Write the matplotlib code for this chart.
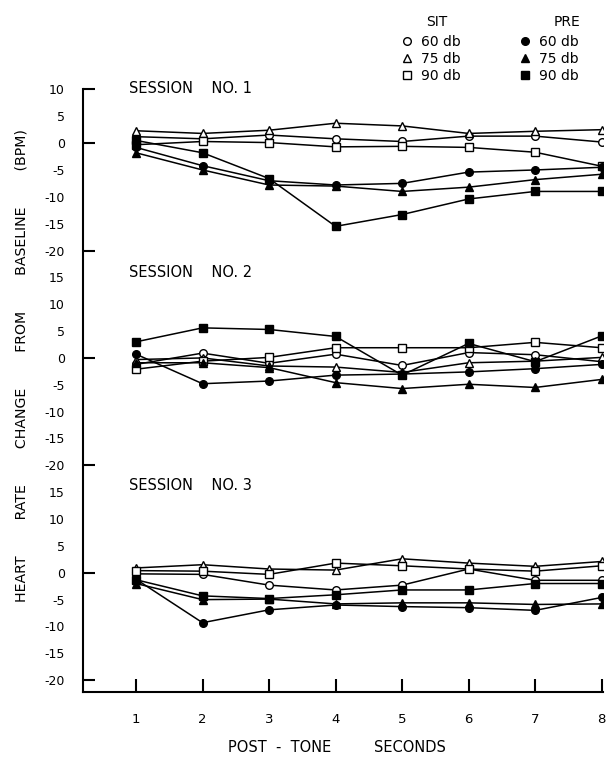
import matplotlib
matplotlib.use("Agg")
import matplotlib.pyplot as plt
from matplotlib.lines import Line2D

# ---------------- data ----------------
seconds = [1, 2, 3, 4, 5, 6, 7, 8]
session_labels = ["SESSION    NO. 1", "SESSION    NO. 2", "SESSION    NO. 3"]
legend_groups = ["SIT", "PRE"]
legend_levels = ["60 db", "75 db", "90 db"]

# Session 1
s1_sit60 = [1.2, 0.8, 1.5, 0.8, 0.3, 1.3, 1.3, 0.2]
s1_sit75 = [2.3, 1.8, 2.4, 3.7, 3.2, 1.8, 2.2, 2.5]
s1_sit90 = [-0.3, 0.3, 0.1, -0.7, -0.6, -0.8, -1.7, -4.3]
s1_pre60 = [-0.8, -4.2, -7.0, -7.8, -7.5, -5.4, -5.0, -4.5]
s1_pre75 = [-1.8, -5.0, -7.8, -8.0, -9.0, -8.2, -6.8, -5.8]
s1_pre90 = [0.5, -1.8, -6.6, -15.5, -13.3, -10.4, -9.0, -9.0]

# Session 2
s2_sit60 = [-1.2, 0.9, -1.0, 0.7, -1.4, 1.0, 0.6, -0.7]
s2_sit75 = [-0.3, 0.0, -1.5, -1.7, -2.7, -0.9, -0.6, 0.1]
s2_sit90 = [-2.1, -0.6, 0.1, 1.9, 1.9, 1.9, 2.9, 1.9]
s2_pre60 = [0.7, -4.8, -4.3, -3.2, -3.0, -2.6, -2.0, -1.2]
s2_pre75 = [-0.9, -0.9, -1.8, -4.6, -5.7, -4.9, -5.5, -4.0]
s2_pre90 = [3.0, 5.6, 5.3, 4.0, -3.2, 2.7, -0.7, 4.1]

# Session 3
s3_sit60 = [-0.2, -0.3, -2.3, -3.2, -2.3, 0.7, -1.4, -1.4]
s3_sit75 = [0.9, 1.5, 0.7, 0.5, 2.6, 1.8, 1.2, 2.1]
s3_sit90 = [0.4, 0.3, -0.3, 1.8, 1.3, 0.7, 0.3, 1.3]
s3_pre60 = [-1.2, -9.3, -6.9, -6.0, -6.3, -6.5, -7.0, -4.6]
s3_pre75 = [-2.0, -5.0, -4.9, -5.8, -5.6, -5.6, -5.9, -5.8]
s3_pre90 = [-1.3, -4.3, -4.8, -4.1, -3.2, -3.2, -2.0, -2.0]

session1 = [s1_sit60, s1_sit75, s1_sit90, s1_pre60, s1_pre75, s1_pre90]
session2 = [s2_sit60, s2_sit75, s2_sit90, s2_pre60, s2_pre75, s2_pre90]
session3 = [s3_sit60, s3_sit75, s3_sit90, s3_pre60, s3_pre75, s3_pre90]
sessions = [session1, session2, session3]

# y tick labels for each session band
s1_ticks = [10, 5, 0, -5, -10, -15, -20]
s23_ticks = [15, 10, 5, 0, -5, -10, -15, -20]

# ---------------- styling ----------------
offsets = [80, 40, 0]          # each session band stacked on one axis
markers = ["o", "^", "s", "o", "^", "s"]
fills = ["white", "white", "white", "black", "black", "black"]
msizes = [5.5, 6.0, 5.5, 5.5, 6.0, 5.5]

W, H = 607, 764
fig = plt.figure(figsize=(W / 100, H / 100), dpi=100)
ax = fig.add_axes([83 / W, 1 - 692 / H, (603 - 83) / W, (692 - 89.4) / H])

for sess, off in zip(sessions, offsets):
    for vals, m, fc, ms in zip(sess, markers, fills, msizes):
        ax.plot(seconds, [v + off for v in vals], color="black", lw=1.1,
                marker=m, mfc=fc, mec="black", mew=1.0, ms=ms,
                solid_joinstyle="miter")

ax.set_xlim(0.203, 8.02)
ax.set_ylim(-22.2, 90)

for s in ["top", "right"]:
    ax.spines[s].set_visible(False)
for s in ["left", "bottom"]:
    ax.spines[s].set_linewidth(1.5)

# x ticks
ax.set_xticks(seconds)
ax.set_xticklabels([str(s) for s in seconds])
ax.tick_params(axis="x", direction="in", length=9.5, width=1.5, pad=15,
               labelsize=9.5)

# y tick labels (no marks) and special marked ticks
ypos, ylab = [], []
for t in s1_ticks:
    ypos.append(t + offsets[0]); ylab.append(str(t))
for off in offsets[1:]:
    for t in s23_ticks:
        ypos.append(t + off); ylab.append(str(t))
ax.set_yticks(ypos)
ax.set_yticklabels(ylab)
ax.tick_params(axis="y", which="major", length=0, pad=13, labelsize=9)
mark_pos = [10 + offsets[0]]
for off in offsets:
    mark_pos += [0 + off, -20 + off]
ax.yaxis.remove_overlapping_locs = False
ax.set_yticks(mark_pos, minor=True)
ax.tick_params(axis="y", which="minor", direction="in", length=8.5, width=1.5)

# session titles
title_levels = [10.2, 16, 16.3]
for lab, off, lv in zip(session_labels, offsets, title_levels):
    ax.text(0.9, lv + off, lab, fontsize=10.5, ha="left", va="center",
            clip_on=False)

# axis labels
fig.text(22 / W, 1 - 366 / H,
         "HEART        RATE        CHANGE        FROM        BASELINE        (BPM)",
         rotation=90, ha="center", va="center", fontsize=10.2)
fig.text(280 / W, 1 - 748 / H, "POST  -  TONE",
         ha="center", va="center", fontsize=10.5)
fig.text(410 / W, 1 - 748 / H, "SECONDS",
         ha="center", va="center", fontsize=10.5)

# legends (two columns with headers)
sit_handles = [Line2D([], [], ls="none", marker=m, mfc="white", mec="black",
                      mew=1.0, ms=ms) for m, ms in zip(markers[:3], msizes[:3])]
pre_handles = [Line2D([], [], ls="none", marker=m, mfc="black", mec="black",
                      mew=1.0, ms=ms) for m, ms in zip(markers[3:], msizes[3:])]
common = dict(loc="upper left", frameon=False, borderpad=0, borderaxespad=0,
              handlelength=0.8, handletextpad=0.6, labelspacing=0.2,
              fontsize=10, bbox_transform=fig.transFigure)
fig.legend(sit_handles, legend_levels, bbox_to_anchor=(0.661, 1 - 35 / H), **common)
fig.legend(pre_handles, legend_levels, bbox_to_anchor=(0.856, 1 - 35 / H), **common)
fig.text(437 / W, 1 - 22 / H, legend_groups[0], ha="center", va="center", fontsize=10)
fig.text(567 / W, 1 - 22 / H, legend_groups[1], ha="center", va="center", fontsize=10)

fig.savefig("out.png", dpi=100)
